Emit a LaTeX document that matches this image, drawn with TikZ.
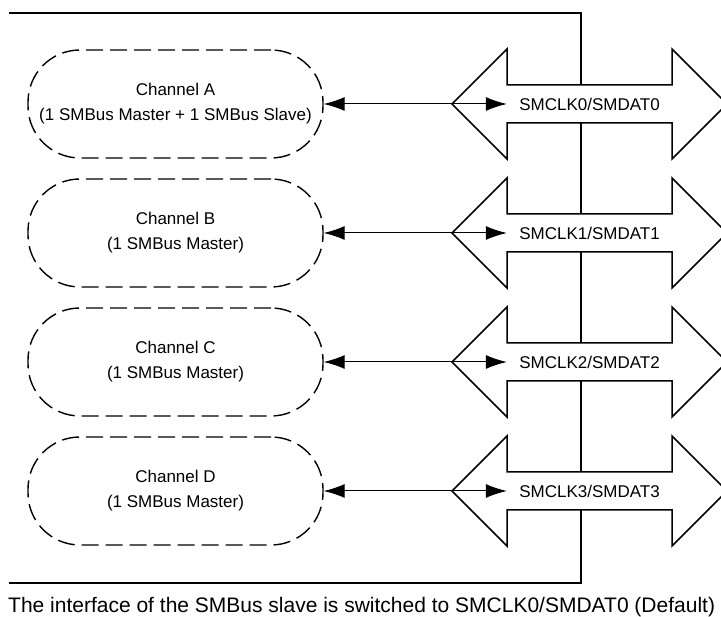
\documentclass[tikz,border=0pt]{standalone}
\usepackage{fontspec}
\setmainfont{Liberation Sans}
\usepackage{tikz}
\usetikzlibrary{arrows.meta}

\begin{document}
\begin{tikzpicture}[x=1pt, y=1pt,
    channel/.style={draw, dash pattern=on 17pt off 7pt, line width=1.4pt, rounded corners=52pt,
        minimum width=295pt, minimum height=108pt, inner sep=0pt, align=center,
        font=\fontsize{17}{25}\selectfont},
    buslabel/.style={minimum width=165pt, minimum height=38pt, inner sep=0pt, font=\fontsize{17}{20}\selectfont},
    busshape/.style={draw, fill=white, line width=1.5pt},
    link/.style={line width=1pt, {Latex[length=21pt,width=14pt]}-{Latex[length=21pt,width=14pt]}},
    frame/.style={line width=2.8pt}]
    \useasboundingbox (0,0) rectangle (721,617);
    % outer bus line
    \draw[frame] (9,604) -- (581,604) -- (581,34) -- (9,34);

    % channel A
    \node[channel] (chA) at (175.5,513) {Channel A\\(1 SMBus Master + 1 SMBus Slave)};
    \coordinate (bus0) at (589.5,513);
    \draw[busshape] (bus0) ++(-82.5,19) -- ++(0,36) -- ++(-55,-55) -- ++(55,-55) -- ++(0,36) -- ++(165,0)
        -- ++(0,-36) -- ++(55,55) -- ++(-55,55) -- ++(0,-36) -- cycle;
    \node[buslabel] (lbl0) at (bus0) {SMCLK0/SMDAT0};
    \draw[link] (chA.east) -- (lbl0.west);

    % channel B
    \node[channel] (chB) at (175.5,384) {Channel B\\(1 SMBus Master)};
    \coordinate (bus1) at (589.5,384);
    \draw[busshape] (bus1) ++(-82.5,19) -- ++(0,36) -- ++(-55,-55) -- ++(55,-55) -- ++(0,36) -- ++(165,0)
        -- ++(0,-36) -- ++(55,55) -- ++(-55,55) -- ++(0,-36) -- cycle;
    \node[buslabel] (lbl1) at (bus1) {SMCLK1/SMDAT1};
    \draw[link] (chB.east) -- (lbl1.west);

    % channel C
    \node[channel] (chC) at (175.5,255) {Channel C\\(1 SMBus Master)};
    \coordinate (bus2) at (589.5,255);
    \draw[busshape] (bus2) ++(-82.5,19) -- ++(0,36) -- ++(-55,-55) -- ++(55,-55) -- ++(0,36) -- ++(165,0)
        -- ++(0,-36) -- ++(55,55) -- ++(-55,55) -- ++(0,-36) -- cycle;
    \node[buslabel] (lbl2) at (bus2) {SMCLK2/SMDAT2};
    \draw[link] (chC.east) -- (lbl2.west);

    % channel D
    \node[channel] (chD) at (175.5,126) {Channel D\\(1 SMBus Master)};
    \coordinate (bus3) at (589.5,126);
    \draw[busshape] (bus3) ++(-82.5,19) -- ++(0,36) -- ++(-55,-55) -- ++(55,-55) -- ++(0,36) -- ++(165,0)
        -- ++(0,-36) -- ++(55,55) -- ++(-55,55) -- ++(0,-36) -- cycle;
    \node[buslabel] (lbl3) at (bus3) {SMCLK3/SMDAT3};
    \draw[link] (chD.east) -- (lbl3.west);

    \node[anchor=base west, inner sep=0pt, font=\fontsize{21}{25}\selectfont] (note) at (8,4)
        {The interface of the SMBus slave is switched to SMCLK0/SMDAT0 (Default)};
\end{tikzpicture}
\end{document}
